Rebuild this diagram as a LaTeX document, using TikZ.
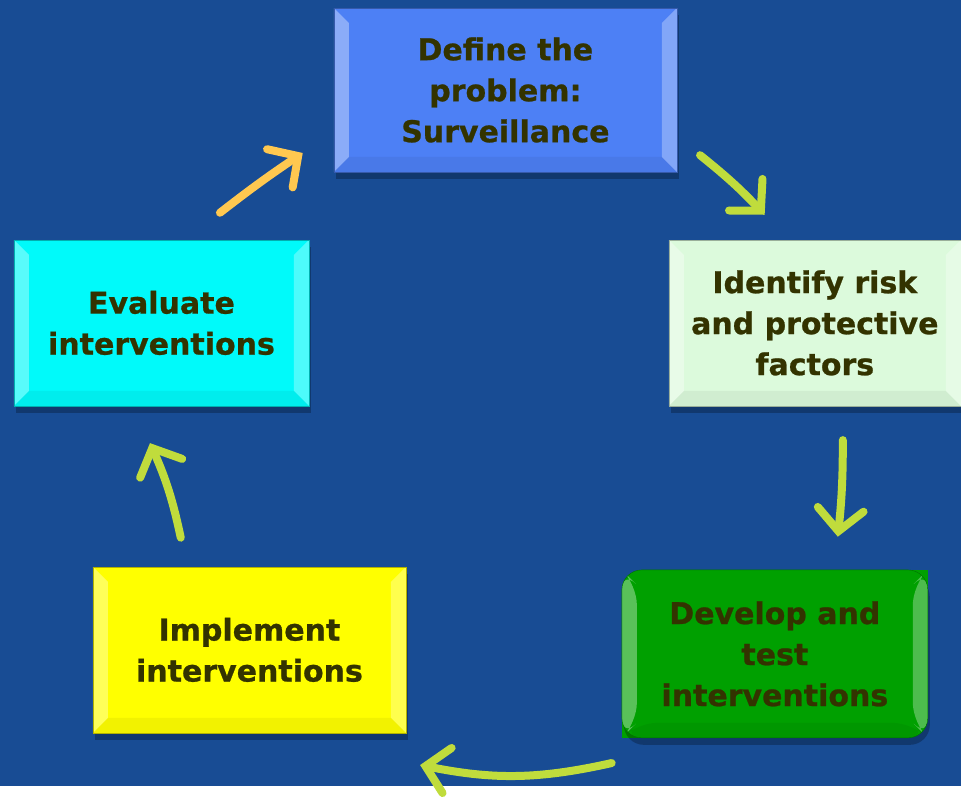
\documentclass[tikz,border=0pt]{standalone}
\usepackage{fontspec}
\setmainfont{DejaVu Sans}[BoldFeatures={FakeBold=0.8}]
\usetikzlibrary{arrows.meta,shadows}
\definecolor{bgblue}{RGB}{24,76,148}
\definecolor{txt}{RGB}{51,51,0}
\definecolor{lime}{RGB}{192,220,60}
\definecolor{gold}{RGB}{255,200,80}
\definecolor{defblue}{RGB}{77,128,245}
\definecolor{riskgreen}{RGB}{220,250,220}
\definecolor{devgreen}{RGB}{0,160,0}
\definecolor{implyellow}{RGB}{255,255,0}
\definecolor{evalcyan}{RGB}{0,250,250}
\tikzset{
  stepbox/.style={rectangle,align=center,text=txt,font=\bfseries\fontsize{30}{41}\selectfont,
    inner sep=0pt,minimum width=#1,minimum height=166pt,
    drop shadow={shadow xshift=2pt,shadow yshift=-7pt,fill=black,opacity=.25},
    path picture={
      \fill[white,opacity=.35] (path picture bounding box.south west) -- (path picture bounding box.north west)
        -- ([shift={(15pt,-15pt)}]path picture bounding box.north west) -- ([shift={(15pt,15pt)}]path picture bounding box.south west) -- cycle;
      \fill[white,opacity=.3] (path picture bounding box.south east) -- (path picture bounding box.north east)
        -- ([shift={(-15pt,-15pt)}]path picture bounding box.north east) -- ([shift={(-15pt,15pt)}]path picture bounding box.south east) -- cycle;
      \fill[black,opacity=.05] (path picture bounding box.south west) -- (path picture bounding box.south east)
        -- ([shift={(-15pt,15pt)}]path picture bounding box.south east) -- ([shift={(15pt,15pt)}]path picture bounding box.south west) -- cycle;
    }},
  cyc/.style={line width=8pt,line cap=round,draw=lime,-{Straight Barb[length=22pt,width=46pt,line cap=round]}}
}
\begin{document}
\begin{tikzpicture}[x=1pt,y=-1pt]
\fill [bgblue] (0,0) rectangle (961,786);
\node (def)  at (505.5,90) [stepbox=343pt,minimum height=164pt,fill=defblue,draw=defblue!70!black] {Define the\\problem:\\Surveillance};
\node (risk) at (815,323)  [stepbox=292pt,fill=riskgreen,draw=riskgreen!70!black] {Identify risk\\and protective\\factors};
\fill [devgreen] (775,570) rectangle (928,620);
\fill [devgreen] (622,690) rectangle (700,738);
\node (dev)  at (775,654)  [stepbox=306pt,minimum height=168pt,fill=devgreen,draw=devgreen!70!black,rounded corners=20pt] {Develop and\\test\\interventions};
\node (impl) at (249.5,650) [stepbox=313pt,fill=implyellow,draw=implyellow!70!black] {Implement\\interventions};
\node (eval) at (161.5,323) [stepbox=295pt,fill=evalcyan,draw=evalcyan!70!black] {Evaluate\\interventions};
\draw [cyc] ([shift={(23,-17)}]def.south east) to [bend left=4] ([shift={(96,-25)}]risk.north west);
\draw [cyc] ([shift={(28,34)}]risk.south) to [bend left=3] ([shift={(63,-33)}]dev.north);
\draw [cyc] ([shift={(-10,25)}]dev.south west) to [bend left=12] ([shift={(14,32)}]impl.south east);
\draw [cyc] ([shift={(88,-29)}]impl.north west) to [bend right=6] ([shift={(-11.5,37)}]eval.south);
\draw [cyc,draw=gold] ([shift={(58.5,-27)}]eval.north) to [bend left=2] ([shift={(-31,63)}]def.west);
\end{tikzpicture}
\end{document}
